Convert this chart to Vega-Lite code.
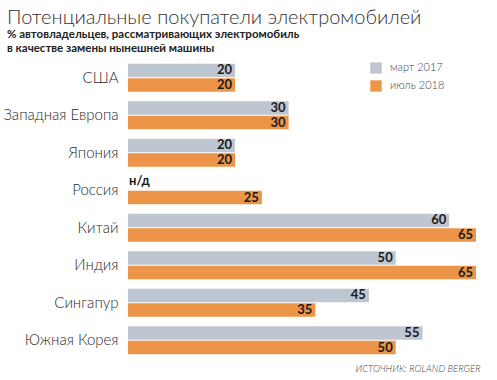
{
  "$schema": "https://vega.github.io/schema/vega-lite/v6.json",
  "autosize": "none",
  "width": 348,
  "height": 300,
  "padding": {"left": 128, "top": 59, "right": 21, "bottom": 21},
  "background": "white",
  "config": {"view": {"stroke": null}, "font": "Lato"},
  "title": {
    "text": "Потенциальные покупатели электромобилей",
    "subtitle": ["% автовладельцев, рассматривающих электромобиль", "в качестве замены нынешней машины"],
    "anchor": "start",
    "frame": "group",
    "dx": -121,
    "offset": 5,
    "font": "Lato",
    "fontSize": 20,
    "fontWeight": 300,
    "color": "#333333",
    "subtitleFont": "Lato",
    "subtitleFontSize": 11.5,
    "subtitleFontWeight": "bold",
    "subtitleColor": "#222222",
    "subtitlePadding": 1,
    "subtitleLineHeight": 14
  },
  "data": {
    "values": [
      {"country": "США", "period": "март 2017", "value": 20},
      {"country": "США", "period": "июль 2018", "value": 20},
      {"country": "Западная Европа", "period": "март 2017", "value": 30},
      {"country": "Западная Европа", "period": "июль 2018", "value": 30},
      {"country": "Япония", "period": "март 2017", "value": 20},
      {"country": "Япония", "period": "июль 2018", "value": 20},
      {"country": "Россия", "period": "март 2017", "value": null},
      {"country": "Россия", "period": "июль 2018", "value": 25},
      {"country": "Китай", "period": "март 2017", "value": 60},
      {"country": "Китай", "period": "июль 2018", "value": 65},
      {"country": "Индия", "period": "март 2017", "value": 50},
      {"country": "Индия", "period": "июль 2018", "value": 65},
      {"country": "Сингапур", "period": "март 2017", "value": 45},
      {"country": "Сингапур", "period": "июль 2018", "value": 35},
      {"country": "Южная Корея", "period": "март 2017", "value": 55},
      {"country": "Южная Корея", "period": "июль 2018", "value": 50}
    ]
  },
  "encoding": {
    "y": {
      "field": "country",
      "type": "nominal",
      "sort": null,
      "scale": {"paddingInner": 0.25, "paddingOuter": 0.125},
      "axis": {
        "title": null,
        "domain": false,
        "ticks": false,
        "labelPadding": 10,
        "labelFont": "Lato",
        "labelFontSize": 15,
        "labelFontWeight": 300,
        "labelColor": "#2a2a2a",
        "labelLimit": 125
      }
    },
    "yOffset": {
      "field": "period",
      "type": "nominal",
      "sort": ["март 2017", "июль 2018"],
      "scale": {"paddingInner": 0.07}
    }
  },
  "layer": [
    {
      "mark": {"type": "bar"},
      "encoding": {
        "x": {
          "field": "value",
          "type": "quantitative",
          "scale": {"domain": [0, 65], "nice": false},
          "axis": {
            "title": "ИСТОЧНИК: ROLAND BERGER",
            "titleX": 352,
            "titleAlign": "right",
            "titleFont": "Lato",
            "titleFontSize": 9.5,
            "titleFontWeight": 300,
            "titleFontStyle": "italic",
            "titleColor": "#444444",
            "titlePadding": 4,
            "labels": false,
            "ticks": false,
            "domain": false,
            "grid": false
          }
        },
        "color": {
          "field": "period",
          "type": "nominal",
          "scale": {"domain": ["март 2017", "июль 2018"], "range": ["#BEC6D1", "#EC9548"]},
          "legend": {
            "title": null,
            "orient": "none",
            "legendX": 242,
            "legendY": 3,
            "symbolType": "square",
            "symbolSize": 130,
            "symbolStrokeWidth": 0,
            "labelFont": "Lato",
            "labelFontSize": 11,
            "labelFontWeight": 300,
            "labelColor": "#444444",
            "rowPadding": 6,
            "labelOffset": 8
          }
        }
      }
    },
    {
      "transform": [{"filter": "datum.value != null"}],
      "mark": {"type": "text", "align": "right", "baseline": "middle", "dx": -3, "font": "Lato", "fontSize": 13, "fontWeight": "bold", "color": "#1a1a1a"},
      "encoding": {
        "x": {"field": "value", "type": "quantitative"},
        "text": {"field": "value", "type": "quantitative"}
      }
    },
    {
      "transform": [{"filter": "datum.value == null"}],
      "mark": {"type": "text", "align": "left", "baseline": "middle", "dx": 1, "dy": -2, "font": "Lato", "fontSize": 13, "fontWeight": "bold", "color": "#1a1a1a"},
      "encoding": {
        "x": {"datum": 0},
        "text": {"value": "н/д"}
      }
    }
  ]
}
